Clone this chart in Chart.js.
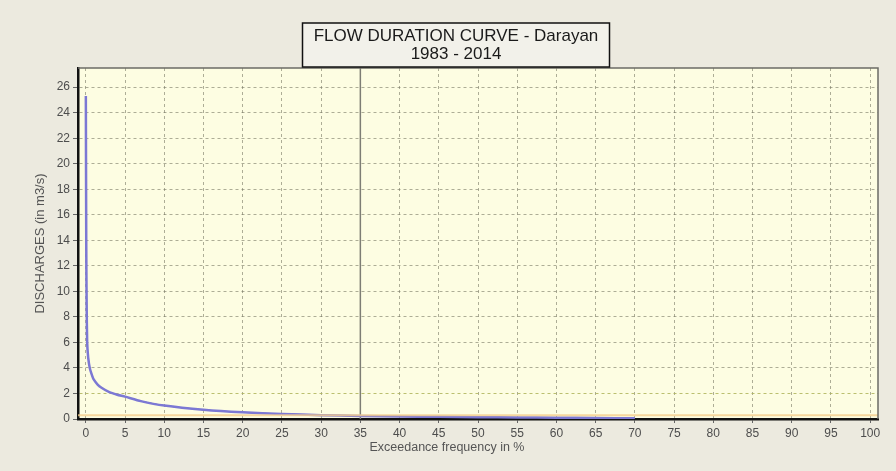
<!DOCTYPE html>
<html>
<head>
<meta charset="utf-8">
<script src="https://cdn.jsdelivr.net/npm/chart.js@4"></script>
<style>
  html, body { margin: 0; padding: 0; background: #ebeae2; }
  #wrap { width: 896px; height: 471px; }
</style>
</head>
<body>
<div id="wrap"><canvas id="fdc" width="896" height="471"></canvas></div>
<script>
// values
const titleLines = ["FLOW DURATION CURVE - Darayan", "1983 - 2014"];
const xTitle = "Exceedance frequency in %";
const yTitle = "DISCHARGES (in m3/s)";

const exceedance = [0, 0.05, 0.1, 0.17, 0.3, 0.5, 0.8, 1, 1.5, 2, 3, 4, 5, 7, 10, 15, 20, 25, 30, 35, 40, 45, 50, 55, 60, 65, 70];
const discharge = [25.3, 14, 9, 6, 4.8, 4.0, 3.4, 3.1, 2.7, 2.45, 2.1, 1.9, 1.75, 1.4, 1.05, 0.72, 0.52, 0.4, 0.3, 0.24, 0.2, 0.17, 0.14, 0.12, 0.1, 0.08, 0.05];

// faint reference line just above the axis
const refX = [-1, 101];
const refY = [0.3, 0.3];

const xMin = -1, xMax = 101, xStep = 5;
const yMin = 0, yMax = 27.5, yStep = 2;
const markerX = 35; // darker vertical gridline

const FONT = "'Liberation Sans', Arial, sans-serif";

function toPoints(xs, ys) {
	return xs.map((x, i) => ({ x: x, y: ys[i] }));
}

const framePlugin = {
	id: "frame",
	beforeDraw(chart) {
		const ctx = chart.ctx;
		const a = chart.chartArea;
		ctx.save();
		ctx.fillStyle = "#eceadf";
		ctx.fillRect(0, 0, chart.width, chart.height);
		ctx.fillStyle = "#fdfde2";
		ctx.fillRect(a.left, a.top, a.right - a.left, a.bottom - a.top);
		ctx.restore();
	},
	beforeDatasetsDraw(chart) {
		// solid darker gridline at the marker
		const ctx = chart.ctx;
		const a = chart.chartArea;
		const px = chart.scales.x.getPixelForValue(markerX);
		ctx.save();
		ctx.strokeStyle = "#7d7d74";
		ctx.lineWidth = 1.5;
		ctx.beginPath();
		ctx.moveTo(px, a.top);
		ctx.lineTo(px, a.bottom);
		ctx.stroke();
		ctx.restore();
	},
	afterDraw(chart) {
		const ctx = chart.ctx;
		const a = chart.chartArea;
		ctx.save();
		// top and right frame
		ctx.strokeStyle = "#6b6b66";
		ctx.lineWidth = 1.5;
		ctx.beginPath();
		ctx.moveTo(a.left, a.top);
		ctx.lineTo(a.right, a.top);
		ctx.lineTo(a.right, a.bottom);
		ctx.stroke();

		// x axis title, offset left like the original
		ctx.font = "12.5px " + FONT;
		ctx.fillStyle = "#555";
		ctx.textAlign = "center";
		ctx.textBaseline = "middle";
		ctx.fillText(xTitle, 447, 448);

		// title box
		ctx.font = "17px " + FONT;
		const w = 307;
		const cx = 456;
		const boxTop = 23, boxBottom = 67;
		ctx.fillStyle = "#f2f1ea";
		ctx.fillRect(cx - w / 2, boxTop, w, boxBottom - boxTop);
		ctx.strokeStyle = "#111";
		ctx.lineWidth = 1.5;
		ctx.strokeRect(cx - w / 2, boxTop, w, boxBottom - boxTop);
		ctx.fillStyle = "#1a1a1a";
		ctx.fillText(titleLines[0], cx, 36);
		ctx.fillText(titleLines[1], cx, 54);
		ctx.restore();
	},
};

const ctx = document.getElementById("fdc").getContext("2d");
new Chart(ctx, {
	type: "scatter",
	data: {
		datasets: [
			{
				label: "ref",
				data: toPoints(refX, refY),
				showLine: true,
				borderColor: "rgba(245, 205, 140, 0.8)",
				borderWidth: 2,
				pointRadius: 0,
			},
			{
				label: "FDC shadow",
				data: toPoints(exceedance, discharge),
				showLine: true,
				borderColor: "#7c78d4",
				borderWidth: 2.5,
				pointRadius: 0,
				tension: 0.2,
			},
			{
				label: "FDC",
				data: toPoints(exceedance, discharge),
				showLine: true,
				borderColor: "#3b3960",
				borderWidth: 1,
				pointRadius: 0,
				tension: 0.2,
			},
		],
	},
	options: {
		responsive: false,
		animation: false,
		layout: { padding: { top: 68, right: 18, left: 0, bottom: 0 } },
		plugins: {
			legend: { display: false },
			tooltip: { enabled: false },
		},
		scales: {
			x: {
				type: "linear",
				min: xMin,
				max: xMax,
				afterFit(scale) {
					scale.height = 52;
				},
				ticks: {
					stepSize: xStep,
					includeBounds: false,
					autoSkip: false,
					maxRotation: 0,
					color: "#4d4d4d",
					padding: 3,
					font: { family: FONT, size: 12 },
				},
				grid: {
					color: "rgba(120, 120, 100, 0.6)",
					tickLength: 4,
					tickColor: "#666",
				},
				border: { color: "#111", width: 2.5, dash: [3, 3] },
			},
			y: {
				type: "linear",
				min: yMin,
				max: yMax,
				afterFit(scale) {
					scale.width = 78;
				},
				ticks: {
					stepSize: yStep,
					includeBounds: false,
					color: "#4d4d4d",
					padding: 3,
					font: { family: FONT, size: 12 },
				},
				grid: {
					color: (c) => (c.tick && c.tick.value === 2 ? "rgba(175, 180, 90, 0.85)" : "rgba(120, 120, 100, 0.6)"),
					tickLength: 5,
					tickColor: "#666",
				},
				border: { color: "#111", width: 2.5, dash: [3, 3] },
				title: {
					display: true,
					text: yTitle,
					color: "#555",
					padding: { top: 33, bottom: 0 },
					font: { family: FONT, size: 13 },
				},
			},
		},
	},
	plugins: [framePlugin],
});
</script>
</body>
</html>
